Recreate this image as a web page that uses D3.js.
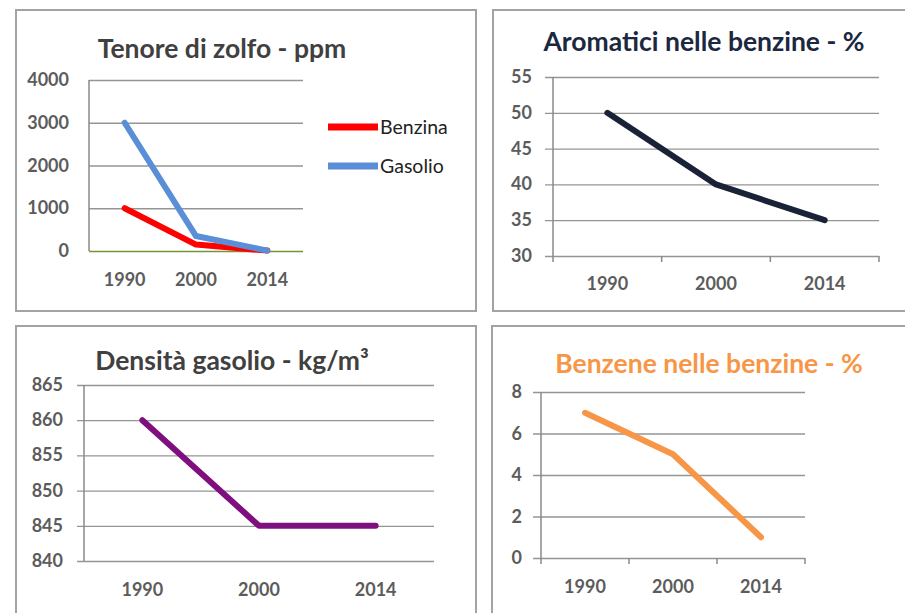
<!DOCTYPE html>
<html>
<head>
<meta charset="utf-8">
<script src="https://cdn.jsdelivr.net/npm/d3@7"></script>
<style>
  html, body { margin: 0; padding: 0; background: #fff; }
  svg { display: block; font-family: Lato, "Open Sans", sans-serif; }
</style>
</head>
<body>
<svg id="chart" width="905" height="613"></svg>
<script>
// ---- Data ----
const years = ["1990", "2000", "2014"];

const sulfurTitle = "Tenore di zolfo - ppm";
const sulfurTicks = [0, 1000, 2000, 3000, 4000];
const sulfurBenzina = [1000, 150, 10];
const sulfurGasolio = [3000, 350, 10];
const sulfurSeriesNames = ["Benzina", "Gasolio"];

const aromTitle = "Aromatici nelle benzine - %";
const aromTicks = [30, 35, 40, 45, 50, 55];
const aromValues = [50, 40, 35];

const densTitle = "Densità gasolio - kg/m³";
const densTicks = [840, 845, 850, 855, 860, 865];
const densValues = [860, 845, 845];

const benzTitle = "Benzene nelle benzine - %";
const benzTicks = [0, 2, 4, 6, 8];
const benzValues = [7, 5, 1];

// ---- Drawing ----
const svg = d3.select("#chart");
const gridColor = "#959595";
const axisColor = "#8a8a8a";
const labelColor = "#5c5c5c";

function panel(cfg) {
  const g = svg.append("g");
  // frame
  g.append("rect")
    .attr("x", cfg.frame[0]).attr("y", cfg.frame[1])
    .attr("width", cfg.frame[2]).attr("height", cfg.frame[3])
    .attr("fill", "#fff").attr("stroke", "#a3a3a3").attr("stroke-width", 2);

  const x = d3.scaleBand().domain(years).range([cfg.x0, cfg.x1]);
  const y = d3.scaleLinear().domain([cfg.ticks[0], cfg.ticks[cfg.ticks.length - 1]]).range([cfg.y1, cfg.y0]);

  // gridlines
  const yAxis = d3.axisLeft(y).tickValues(cfg.ticks).tickSize(-(cfg.x1 - cfg.x0)).tickSizeOuter(0).tickPadding(0).tickFormat("");
  const ga = g.append("g").attr("transform", `translate(${cfg.x0},0)`).call(yAxis);
  ga.select(".domain").remove();
  ga.selectAll("line").attr("stroke", gridColor).attr("stroke-width", 1.3)
    .attr("x1", -cfg.tickOut);
  if (cfg.zeroColor) {
    ga.selectAll(".tick").filter(d => d === cfg.ticks[0]).select("line").attr("stroke", cfg.zeroColor);
  }
  // y labels
  g.append("g").selectAll("text").data(cfg.ticks).join("text")
    .attr("x", cfg.labelX).attr("y", d => y(d) + 6)
    .attr("text-anchor", "end")
    .attr("font-size", 18).attr("font-weight", "bold").attr("fill", labelColor)
    .text(d => d);
  // vertical axis line
  g.append("line").attr("x1", cfg.x0).attr("x2", cfg.x0).attr("y1", cfg.y0).attr("y2", cfg.y1)
    .attr("stroke", axisColor).attr("stroke-width", 1.5);
  // x ticks
  if (cfg.xTicks) {
    const bounds = [cfg.x0].concat(years.map(c => x(c) + x.bandwidth()));
    g.append("g").selectAll("line").data(bounds).join("line")
      .attr("x1", d => d).attr("x2", d => d).attr("y1", cfg.y1).attr("y2", cfg.y1 + 6)
      .attr("stroke", axisColor).attr("stroke-width", 1.5);
  }
  // x labels
  g.append("g").selectAll("text").data(years).join("text")
    .attr("x", d => x(d) + x.bandwidth() / 2).attr("y", cfg.xLabelY)
    .attr("text-anchor", "middle")
    .attr("font-size", 18).attr("font-weight", "bold").attr("fill", labelColor)
    .text(d => d);
  // title
  g.append("text").attr("x", cfg.titleX).attr("y", cfg.titleY)
    .attr("text-anchor", "middle").attr("font-size", cfg.titleSize).attr("font-weight", "bold")
    .attr("fill", cfg.titleColor).text(cfg.title);
  // series
  const line = d3.line().x((d, i) => x(years[i]) + x.bandwidth() / 2).y(d => y(d));
  cfg.series.forEach(s => {
    g.append("path").datum(s.values).attr("d", line)
      .attr("fill", "none").attr("stroke", s.color).attr("stroke-width", 6)
      .attr("stroke-linejoin", "round").attr("stroke-linecap", "round");
  });
  return { g, x, y };
}

// Panel 1
const p1 = panel({
  frame: [16, 10, 460, 301], x0: 89, x1: 303, y0: 80, y1: 251, ticks: sulfurTicks,
  tickOut: 0, labelX: 69, xTicks: false, xLabelY: 286, zeroColor: "#77933c",
  title: sulfurTitle, titleX: 222, titleY: 58, titleSize: 26.5, titleColor: "#404040",
  series: [{ values: sulfurBenzina, color: "#ff0000" }, { values: sulfurGasolio, color: "#5a8fd8" }]
});
// Legend
const legColors = ["#ff0000", "#5a8fd8"];
const leg = svg.append("g").selectAll("g").data(sulfurSeriesNames).join("g")
  .attr("transform", (d, i) => `translate(328,${127 + i * 39})`);
leg.append("line").attr("x1", 0).attr("x2", 50).attr("y1", 0).attr("y2", 0)
  .attr("stroke", (d, i) => legColors[i]).attr("stroke-width", 7);
leg.append("text").attr("x", 52).attr("y", 7).attr("font-size", 19.5).attr("fill", "#222")
  .text(d => d);

// Panel 2
panel({
  frame: [493, 10, 430, 301], x0: 553, x1: 879, y0: 77, y1: 256, ticks: aromTicks,
  tickOut: 8, labelX: 532, xTicks: true, xLabelY: 290,
  title: aromTitle, titleX: 704, titleY: 51, titleSize: 26.5, titleColor: "#1c2740",
  series: [{ values: aromValues, color: "#1a2238" }]
});

// Panel 3
panel({
  frame: [16, 326, 460, 310], x0: 84, x1: 434, y0: 385, y1: 561, ticks: densTicks,
  tickOut: 7, labelX: 63, xTicks: false, xLabelY: 596,
  title: densTitle, titleX: 232, titleY: 370, titleSize: 26.5, titleColor: "#404040",
  series: [{ values: densValues, color: "#7f0f7f" }]
});

// Panel 4
panel({
  frame: [492, 326, 430, 310], x0: 541, x1: 805, y0: 392, y1: 558, ticks: benzTicks,
  tickOut: 8, labelX: 522, xTicks: true, xLabelY: 593,
  title: benzTitle, titleX: 709, titleY: 373, titleSize: 26.5, titleColor: "#f79646",
  series: [{ values: benzValues, color: "#f79646" }]
});
</script>
</body>
</html>
